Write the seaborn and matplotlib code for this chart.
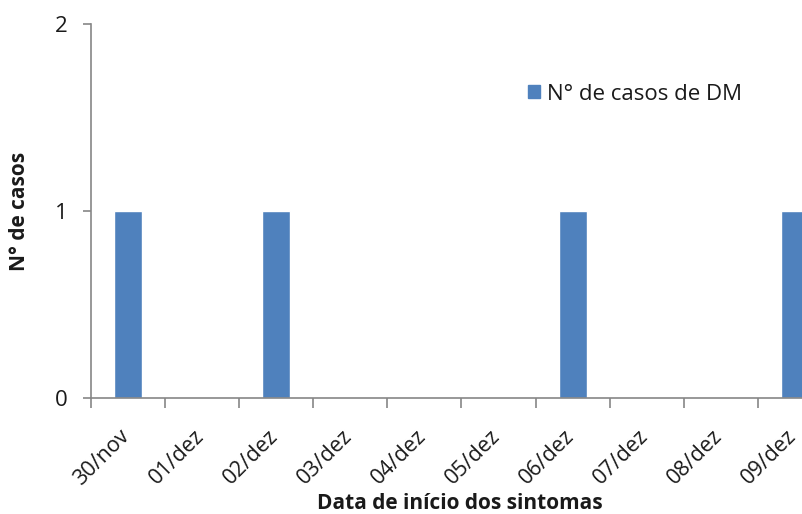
import matplotlib
matplotlib.use("Agg")
import matplotlib.pyplot as plt
import matplotlib.transforms as mtransforms
import seaborn as sns
import pandas as pd
from matplotlib.patches import Patch

datas = ["30/nov", "01/dez", "02/dez", "03/dez", "04/dez",
         "05/dez", "06/dez", "07/dez", "08/dez", "09/dez"]
casos = [1, 0, 1, 0, 0, 0, 1, 0, 0, 1]
serie = "N° de casos de DM"

df = pd.DataFrame({"data": datas, "casos": casos})

sns.set_theme(style="white")
plt.rcParams["font.family"] = ["Open Sans", "DejaVu Sans"]

cor = "#4F81BD"
eixo = "#868686"
texto = "#1a1a1a"

fig = plt.figure(figsize=(8.03, 5.14), dpi=100)
ax = fig.add_axes([91 / 803, 1 - 398 / 514, 741 / 803, 374 / 514])

sns.barplot(data=df, x="data", y="casos", color=cor, width=0.38,
            saturation=1, ax=ax, order=datas)

ax.set_xlim(-0.5, len(datas) - 0.5)
ax.set_ylim(0, 2)
ax.set_yticks([0, 1, 2])

for s in ["top", "right"]:
    ax.spines[s].set_visible(False)
for s in ["left", "bottom"]:
    ax.spines[s].set_color(eixo)
    ax.spines[s].set_linewidth(1.2)

# x ticks sit on the category boundaries; labels on the category centres
ax.set_xticks([i - 0.5 for i in range(len(datas))], minor=False)
ax.set_xticklabels([])
ax.set_xticks(range(len(datas)), minor=True)
ax.set_xticklabels(datas, minor=True, rotation=45, ha="right",
                   rotation_mode="anchor", fontsize=15.5, color=texto)
ax.tick_params(axis="x", which="major", direction="out", length=7,
               width=1.2, color=eixo, bottom=True)
ax.tick_params(axis="x", which="minor", length=0, pad=20, bottom=True)
shift = mtransforms.ScaledTranslation(-9 / 100, 0, fig.dpi_scale_trans)
for lbl in ax.get_xticklabels(minor=True):
    lbl.set_transform(lbl.get_transform() + shift)
ax.tick_params(axis="y", direction="out", length=6, width=1.2,
               color=eixo, left=True, labelsize=16, labelcolor=texto,
               pad=11)

ax.set_xlabel("Data de início dos sintomas", fontsize=15, fontweight="bold",
              color=texto)
ax.set_ylabel("N° de casos", fontsize=15, fontweight="bold", color=texto)
ax.xaxis.set_label_coords((460 - 91) / 741, (398 - 493) / 374)
ax.yaxis.set_label_coords((30 - 91) / 741, (398 - 211) / 374)

ax.legend(handles=[Patch(facecolor=cor, edgecolor=cor, label=serie)],
          loc="center left", bbox_to_anchor=((519 - 91) / 741, (398 - 94) / 374),
          frameon=False, fontsize=16, handlelength=0.55, handleheight=0.55,
          handletextpad=0.3, borderaxespad=0, labelcolor=texto)

fig.savefig("out.png", dpi=100)
